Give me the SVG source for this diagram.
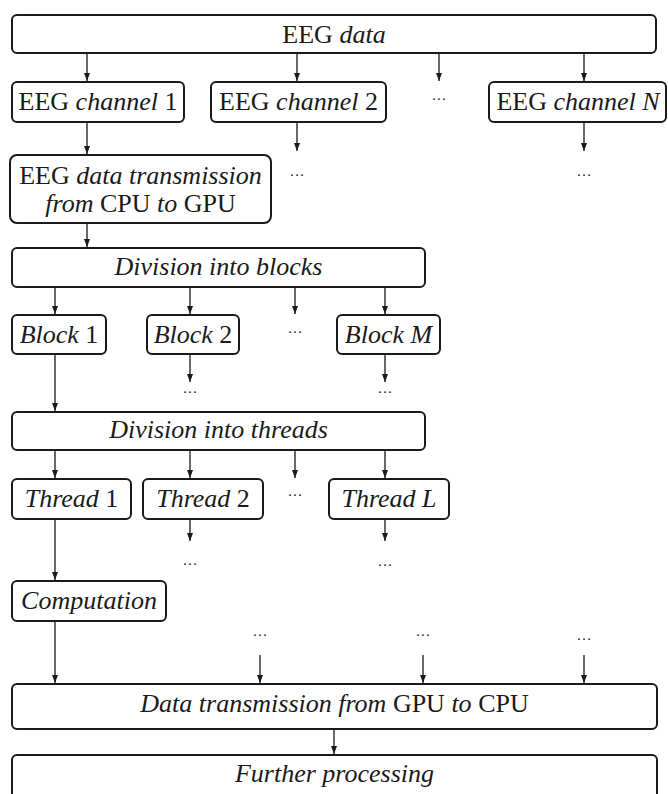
<svg xmlns="http://www.w3.org/2000/svg" width="668" height="794" viewBox="0 0 668 794">
<style>
.box{fill:#fff;stroke:#1a1a1a;stroke-width:2}
.t{font-family:"Liberation Serif","Times New Roman",serif;font-size:26px;fill:#1a1a1a;text-anchor:middle}
.i{font-style:italic}
.d{font-family:"Liberation Serif","Times New Roman",serif;font-size:15px;fill:#1a1a1a;text-anchor:middle}
.c line{stroke:#1a1a1a;stroke-width:1.3;marker-end:url(#ah)}
</style>
<defs>
<marker id="ah" markerUnits="userSpaceOnUse" markerWidth="8" markerHeight="8" refX="8" refY="3" orient="auto" viewBox="0 0 8 6">
<path d="M0,0 L8,3 L0,6 z" fill="#1a1a1a"/>
</marker>
</defs>
<rect width="668" height="794" fill="#fff"/>
<g class="c" id="connectors">
<line x1="87" y1="53" x2="87" y2="81"/>
<line x1="297" y1="53" x2="297" y2="81"/>
<line x1="439" y1="53" x2="439" y2="81"/>
<line x1="584" y1="53" x2="584" y2="81"/>
<line x1="87" y1="122" x2="87" y2="154"/>
<line x1="297" y1="122" x2="297" y2="151"/>
<line x1="584" y1="122" x2="584" y2="151"/>
<line x1="87" y1="223" x2="87" y2="247"/>
<line x1="55" y1="287" x2="55" y2="314"/>
<line x1="190" y1="287" x2="190" y2="314"/>
<line x1="295" y1="287" x2="295" y2="314"/>
<line x1="385" y1="287" x2="385" y2="314"/>
<line x1="55" y1="354" x2="55" y2="411"/>
<line x1="190" y1="354" x2="190" y2="382"/>
<line x1="385" y1="354" x2="385" y2="382"/>
<line x1="55" y1="450" x2="55" y2="478"/>
<line x1="190" y1="450" x2="190" y2="478"/>
<line x1="295" y1="450" x2="295" y2="478"/>
<line x1="385" y1="450" x2="385" y2="478"/>
<line x1="55" y1="519" x2="55" y2="580"/>
<line x1="190" y1="519" x2="190" y2="541"/>
<line x1="385" y1="519" x2="385" y2="541"/>
<line x1="55" y1="621" x2="55" y2="683"/>
<line x1="260" y1="655" x2="260" y2="683"/>
<line x1="423" y1="655" x2="423" y2="683"/>
<line x1="584" y1="655" x2="584" y2="683"/>
<line x1="334" y1="729" x2="334" y2="754"/>
</g>
<g id="dots">
<text class="d" x="439" y="100">…</text>
<text class="d" x="297" y="176">…</text>
<text class="d" x="584" y="176">…</text>
<text class="d" x="295" y="333">…</text>
<text class="d" x="190" y="393">…</text>
<text class="d" x="385" y="393">…</text>
<text class="d" x="295" y="496">…</text>
<text class="d" x="190" y="565">…</text>
<text class="d" x="385" y="566">…</text>
<text class="d" x="260" y="636">…</text>
<text class="d" x="423" y="636">…</text>
<text class="d" x="584" y="640">…</text>
</g>
<g id="eeg-data">
<rect class="box" x="12" y="15" width="644" height="38" rx="5"/>
<text class="t" x="334" y="43">EEG <tspan class="i">data</tspan></text>
</g>
<g id="channel-1">
<rect class="box" x="12" y="82" width="172" height="40" rx="5"/>
<text class="t" x="98" y="110">EEG <tspan class="i">channel</tspan> 1</text>
</g>
<g id="channel-2">
<rect class="box" x="211" y="82" width="175" height="40" rx="5"/>
<text class="t" x="298.5" y="110">EEG <tspan class="i">channel</tspan> 2</text>
</g>
<g id="channel-N">
<rect class="box" x="489" y="82" width="177" height="40" rx="5"/>
<text class="t" x="578" y="110">EEG <tspan class="i">channel N</tspan></text>
</g>
<g id="transmission-cpu-gpu">
<rect class="box" x="10" y="155" width="261" height="68" rx="7"/>
<text class="t" x="140.5" y="184">EEG <tspan class="i">data transmission</tspan></text>
<text class="t" x="140.5" y="212"><tspan class="i">from</tspan> CPU <tspan class="i">to</tspan> GPU</text>
</g>
<g id="division-blocks">
<rect class="box" x="12" y="248" width="413" height="39" rx="5"/>
<text class="t i" x="218.5" y="275">Division into blocks</text>
</g>
<g id="block-1">
<rect class="box" x="12" y="315" width="94" height="39" rx="5"/>
<text class="t" x="59" y="343"><tspan class="i">Block</tspan> 1</text>
</g>
<g id="block-2">
<rect class="box" x="147" y="315" width="92" height="39" rx="5"/>
<text class="t" x="193" y="343"><tspan class="i">Block</tspan> 2</text>
</g>
<g id="block-M">
<rect class="box" x="337" y="315" width="103" height="39" rx="5"/>
<text class="t i" x="388.5" y="343">Block M</text>
</g>
<g id="division-threads">
<rect class="box" x="12" y="412" width="413" height="38" rx="5"/>
<text class="t i" x="218.5" y="438">Division into threads</text>
</g>
<g id="thread-1">
<rect class="box" x="12" y="479" width="119" height="40" rx="5"/>
<text class="t" x="71.5" y="507"><tspan class="i">Thread</tspan> 1</text>
</g>
<g id="thread-2">
<rect class="box" x="143" y="479" width="120" height="40" rx="5"/>
<text class="t" x="203" y="507"><tspan class="i">Thread</tspan> 2</text>
</g>
<g id="thread-L">
<rect class="box" x="329" y="479" width="120" height="40" rx="5"/>
<text class="t i" x="389" y="507">Thread L</text>
</g>
<g id="computation">
<rect class="box" x="12" y="581" width="154" height="40" rx="5"/>
<text class="t i" x="89" y="609">Computation</text>
</g>
<g id="transmission-gpu-cpu">
<rect class="box" x="12" y="684" width="645" height="45" rx="5"/>
<text class="t" x="334.5" y="712"><tspan class="i">Data transmission from</tspan> GPU <tspan class="i">to</tspan> CPU</text>
</g>
<g id="further-processing">
<rect class="box" x="12" y="755" width="645" height="50" rx="5"/>
<text class="t i" x="334.5" y="782">Further processing</text>
</g>
</svg>
